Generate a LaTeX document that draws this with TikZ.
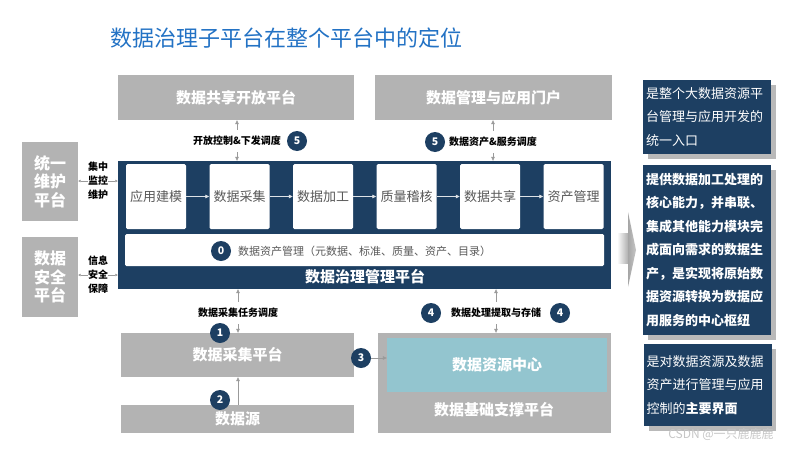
\documentclass[tikz,border=0pt]{standalone}
\usepackage{fontspec}
\setmainfont{Noto Sans CJK SC}
\usetikzlibrary{arrows.meta}

\definecolor{navy}{HTML}{1D3F62}
\definecolor{boxgray}{HTML}{B3B3B3}
\definecolor{teal}{HTML}{93C5CF}
\definecolor{titleblue}{HTML}{2372C4}
\definecolor{textgray}{HTML}{595959}
\definecolor{linegray}{HTML}{9A9A9A}
\newcommand\fsz[1]{\fontsize{#1}{#1}\selectfont}

\begin{document}
\begin{tikzpicture}[x=1pt, y=-1pt,
  graybox/.style={fill=boxgray, text=white, font=\bfseries\fsz{15}, inner sep=0pt},
  stepbox/.style={fill=white, rounded corners=1.5pt, text=textgray, font=\fsz{13},
    minimum width=60pt, minimum height=65pt, inner sep=0pt},
  num/.style={circle, fill=navy, text=white, font=\bfseries\fsz{10.5},
    minimum size=20pt, inner sep=0pt},
  lbl/.style={fill=white, font=\bfseries\fsz{10}, inner sep=0pt, minimum height=22pt},
  sidelbl/.style={align=center, font=\bfseries\fsz{10}, inner sep=0pt,
    minimum width=20pt, execute at begin node={\baselineskip=14pt}},
  conn/.style={draw=linegray, line width=0.6pt, -{Triangle[length=4pt,width=3.6pt]}},
  tiny/.style={conn, -{Triangle[length=2.5pt,width=2.5pt]}},
  flow/.style={draw=white!85!navy, line width=0.8pt, -{Triangle[length=4pt,width=3.6pt]}},
  note/.style={fill=navy, text=white, font=\fsz{13}, align=left, inner sep=3pt,
    minimum width=128pt, text width=122pt,
    execute at begin node={\baselineskip=23.5pt}},
  shadowfill/.style={fill=gray!55}
]
  \useasboundingbox (0,0) rectangle (800,450);

  % title
  \node[anchor=west, text=titleblue, font=\fsz{22}, inner sep=0pt] (title) at (110,38)
    {数据治理子平台在整个平台中的定位};

  % upper platforms
  \node[graybox, minimum width=236pt, minimum height=45pt] (share) at (236,97.5) {数据共享开放平台};
  \node[graybox, minimum width=237pt, minimum height=45pt] (portal) at (493.5,97.5) {数据管理与应用门户};

  % governance platform
  \node[fill=navy, minimum width=493pt, minimum height=128pt, inner sep=0pt] (gov) at (364.5,225) {};
  \foreach \t [count=\i from 0] in {应用建模,数据采集,数据加工,质量稽核,数据共享,资产管理}
    \node[stepbox] (s\i) at ({156+83.5*\i},196.5) {\t};
  \foreach \i [evaluate=\i as \j using int(\i+1)] in {0,...,4}
    \draw[flow] (s\i) -- (s\j);
  \node[fill=white, rounded corners=1.5pt, minimum width=479pt, minimum height=32pt,
    inner sep=0pt] (asset) at (364.5,250) {};
  \node[num] (c0) at (221,251) {0};
  \node[anchor=west, text=textgray, font=\fsz{11}, inner sep=0pt] (assettxt) at (238,251)
    {数据资产管理（元数据、标准、质量、资产、目录）};
  \node[text=white, font=\bfseries\fsz{15}, inner sep=0pt] (govname) at (365,277) {数据治理管理平台};

  % left platforms
  \node[graybox, font=\bfseries\fsz{16}, align=center, minimum width=56pt, minimum height=79pt,
    execute at begin node={\baselineskip=18.5pt}] (maint) at (50,181.5) {统一\\维护\\平台};
  \node[graybox, font=\bfseries\fsz{16}, align=center, minimum width=56pt, minimum height=80pt,
    execute at begin node={\baselineskip=18.5pt}] (secu) at (50,277) {数据\\安全\\平台};
  \node[sidelbl] (mon) at (98,181) {集中\\监控\\维护};
  \node[sidelbl] (safe) at (98,275) {信息\\安全\\保障};
  \draw[tiny] (mon.west) -- (mon.west -| maint.east);
  \draw[tiny] (mon.east) -- (mon.east -| gov.west);
  \draw[tiny] (safe.west) -- (safe.west -| secu.east);
  \draw[tiny] (safe.east) -- (safe.east -| gov.west);

  % links to upper platforms
  \node[lbl] (ctrl) at (237,141) {开放控制\&下发调度};
  \node[num] (c5a) at (297,141) {5};
  \draw[conn] (ctrl.north) -- (ctrl.north |- share.south);
  \draw[conn] (ctrl.south) -- (ctrl.south |- gov.north);
  \node[lbl] (serv) at (493,142) {数据资产\&服务调度};
  \node[num] (c5b) at (435,142) {5};
  \draw[conn] (serv.north) -- (serv.north |- portal.south);
  \draw[conn] (serv.south) -- (serv.south |- gov.north);

  % lower platforms
  \node[graybox, minimum width=233pt, minimum height=44pt] (coll) at (237.5,355) {数据采集平台};
  \node[graybox, minimum width=233pt, minimum height=28pt] (src) at (237.5,419) {数据源};
  \node[graybox, minimum width=233pt, minimum height=100pt] (base) at (494.5,383) {};
  \node[fill=teal, text=white, font=\bfseries\fsz{15}, minimum width=220pt, minimum height=54pt,
    inner sep=0pt] (center) at (497,365) {数据资源中心};
  \node[text=white, font=\bfseries\fsz{15}, inner sep=0pt] (basename) at (494,410) {数据基础支撑平台};

  \node[lbl] (task) at (238,313) {数据采集任务调度};
  \draw[conn] (task.north) -- (task.north |- gov.south);
  \draw[conn] (task.south) -- (task.south |- coll.north);
  \node[num] (c1) at (220,333) {1};
  \draw[conn] (src.north -| task) -- (coll.south -| task);
  \node[num] (c2) at (220,400) {2};
  \node[num] (c3) at (361,358) {3};
  \draw[conn] (c3.east) -- (c3.east -| center.west);
  \node[lbl] (proc) at (496,313) {数据处理提取与存储};
  \draw[conn] (proc.north) -- (proc.north |- gov.south);
  \draw[conn] (proc.south) -- (proc.south |- base.north);
  \node[num] (c4a) at (431,313) {4};
  \node[num] (c4b) at (560,313) {4};

  % big arrow to notes
  \shade[left color=white, right color=gray!65] (617,233) rectangle (628.5,263);
  \shade[left color=gray!70, right color=gray!45] (628,212) -- (636,250) -- (628,287) -- cycle;

  % notes on the right
  \fill[shadowfill] (648,85) rectangle (776,159);
  \node[note, minimum height=74pt] (n1) at (707,117)
    {是整个大数据资源平\\台管理与应用开发的\\统一入口};
  \fill[shadowfill] (648,170) rectangle (776,340);
  \node[note, font=\bfseries\fsz{13}, minimum height=170pt] (n2) at (707,250)
    {提供数据加工处理的\\核心能力，并串联、\\集成其他能力模块完\\成面向需求的数据生\\产，是实现将原始数\\据资源转换为数据应\\用服务的中心枢纽};
  \fill[shadowfill] (649,349) rectangle (776,431);
  \node[note, minimum height=82pt] (n3) at (707.5,385)
    {是对数据资源及数据\\资产进行管理与应用\\控制的\textbf{主要界面}};

  \node[text=gray!45, font=\fsz{12}, inner sep=0pt] (mark) at (721,434) {CSDN @一只鹿鹿鹿};
\end{tikzpicture}
\end{document}
